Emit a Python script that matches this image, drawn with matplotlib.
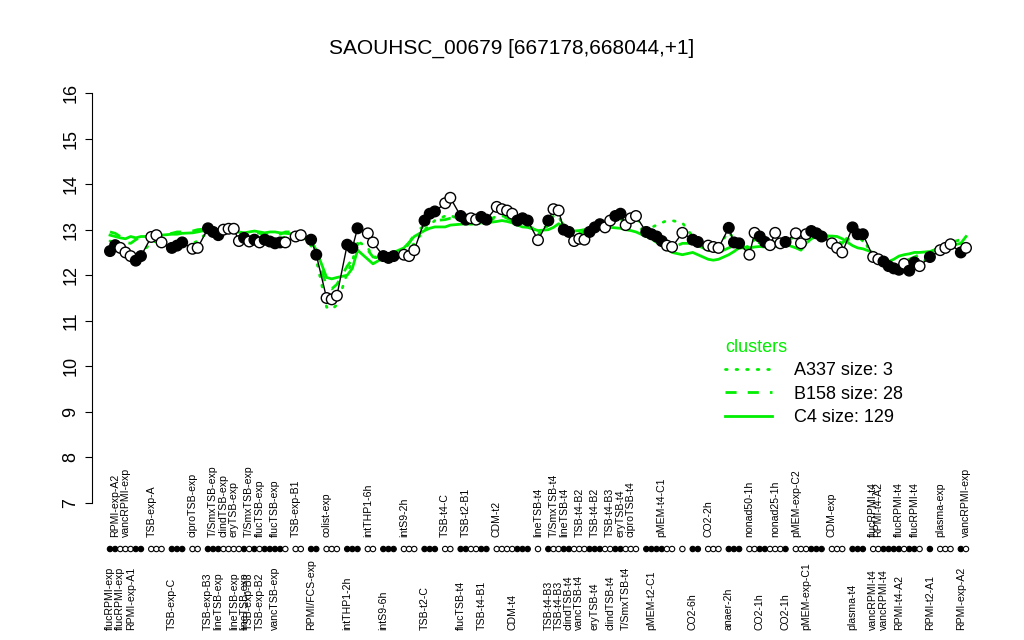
import matplotlib
matplotlib.use("Agg")
import matplotlib.pyplot as plt
from matplotlib.lines import Line2D
import numpy as np

plt.rcParams['font.family'] = ['Liberation Sans', 'DejaVu Sans']

# ── Data ──────────────────────────────────────────────────────
title = "SAOUHSC_00679 [667178,668044,+1]"

# samples come in condition groups (replicates side by side)
group_sizes = [7, 3, 3, 2, 16, 2, 2, 3, 3, 2, 3, 3, 3, 2, 6, 7, 1, 18,
               6, 1, 2, 3, 3, 8, 6, 3, 3, 10, 1, 3, 2]

# expression per sample (one line per group)
expr = [12.53, 12.66, 12.60, 12.50, 12.42, 12.32, 12.42,
        12.84, 12.88, 12.72,
        12.60, 12.65, 12.72,
        12.58, 12.60,
        13.03, 12.95, 12.88, 13.00, 13.02, 13.02, 12.75, 12.82, 12.74,
        12.78, 12.72, 12.78, 12.74, 12.70, 12.72, 12.72,
        12.85, 12.88,
        12.78, 12.45,
        11.50, 11.47, 11.55,
        12.67, 12.60, 13.03,
        12.92, 12.72,
        12.42, 12.38, 12.42,
        12.45, 12.42, 12.55,
        13.20, 13.35, 13.40,
        13.58, 13.70,
        13.30, 13.22, 13.25, 13.22, 13.28, 13.22,
        13.50, 13.45, 13.42, 13.35, 13.20, 13.25, 13.20,
        12.77,
        13.20, 13.45, 13.42, 13.00, 12.95, 12.75, 12.80, 12.78, 12.95,
        13.05, 13.12, 13.05, 13.20, 13.30, 13.35, 13.10, 13.25, 13.30,
        12.95, 12.90, 12.85, 12.75, 12.65, 12.62,
        12.93,
        12.78, 12.73,
        12.65, 12.62, 12.60,
        13.04, 12.72, 12.70,
        12.45, 12.93, 12.85, 12.73, 12.66, 12.93, 12.70, 12.73,
        12.92, 12.70, 12.90, 12.97, 12.92, 12.85,
        12.70, 12.60, 12.50,
        13.05, 12.90, 12.90,
        12.40, 12.35, 12.30, 12.20, 12.15, 12.12, 12.25, 12.10, 12.28, 12.20,
        12.40,
        12.55, 12.60, 12.68,
        12.50, 12.60]

# 1 = filled, 0 = open
filled = [1, 1, 0, 0, 0, 1, 1,
          0, 0, 0,
          1, 1, 1,
          0, 0,
          1, 1, 1, 0, 0, 0, 0, 1, 0, 1, 0, 1, 1, 1, 1, 0,
          0, 0,
          1, 1,
          0, 0, 0,
          1, 1, 1,
          0, 0,
          1, 1, 1,
          0, 0, 0,
          1, 1, 1,
          0, 0,
          1, 1, 0, 0, 1, 1,
          0, 0, 0, 0, 1, 1, 1,
          0,
          1, 0, 0, 1, 1, 0, 0, 0, 1, 1, 1, 0, 0, 1, 1, 0, 0, 0,
          1, 1, 1, 1, 0, 0,
          0,
          1, 1,
          0, 0, 0,
          1, 1, 1,
          0, 0, 1, 1, 0, 0, 0, 1,
          0, 0, 0, 1, 1, 1,
          0, 0, 0,
          1, 1, 1,
          0, 0, 1, 1, 1, 1, 0, 1, 1, 0,
          1,
          0, 0, 0,
          1, 0]

# cluster profiles
c4 = [12.88, 12.85, 12.82, 12.80, 12.85, 12.82, 12.85,
      12.85, 12.87, 12.88,
      12.90, 12.90, 12.92,
      12.93, 12.95,
      13.00, 12.98, 12.95, 12.95, 12.97, 12.98, 12.95, 12.93, 12.95,
      12.97, 12.95, 12.93, 12.95, 12.95, 12.93, 12.92,
      12.90, 12.90,
      12.75, 12.55,
      11.95, 11.92, 11.95,
      12.00, 12.15, 12.55,
      12.35, 12.25,
      12.38, 12.45, 12.50,
      12.60, 12.72, 12.85,
      12.98, 13.03, 13.06,
      13.06, 13.10,
      13.12, 13.13, 13.12, 13.13, 13.15, 13.15,
      13.18, 13.20, 13.18, 13.15, 13.10, 13.06, 13.05,
      12.98,
      13.00, 13.05, 13.13, 13.05, 13.00, 12.97, 12.98, 13.00, 13.02,
      13.03, 13.04, 13.05, 13.05, 13.04, 13.03, 13.00, 12.98, 12.95,
      12.85, 12.80, 12.72, 12.65, 12.58, 12.50,
      12.45,
      12.50, 12.45,
      12.35, 12.33, 12.35,
      12.45, 12.52, 12.60,
      12.60, 12.62, 12.63, 12.62, 12.60, 12.63, 12.65, 12.68,
      12.60, 12.55, 12.70, 12.80, 12.85, 12.86,
      12.86, 12.85, 12.80,
      12.65, 12.60, 12.58,
      12.50, 12.42, 12.35, 12.30, 12.35, 12.42, 12.45, 12.47, 12.50, 12.50,
      12.52,
      12.60, 12.62, 12.65,
      12.70, 12.85]

b158 = [12.95, 12.92, 12.85, 12.72, 12.70, 12.78, 12.85,
        12.90, 12.92, 12.90,
        12.92, 12.95, 12.95,
        12.97, 13.00,
        13.02, 13.00, 12.98, 12.98, 13.00, 13.00, 12.95, 12.90, 12.92,
        12.95, 12.92, 12.90, 12.92, 12.93, 12.90, 12.95,
        12.95, 12.92,
        12.75, 12.50,
        11.75, 11.70, 11.80,
        12.20, 12.35, 12.70,
        12.55, 12.40,
        12.40, 12.45, 12.50,
        12.55, 12.70, 12.90,
        13.10, 13.15, 13.20,
        13.22, 13.25,
        13.25, 13.20, 13.20, 13.20, 13.22, 13.20,
        13.25, 13.30, 13.25, 13.20, 13.15, 13.12, 13.10,
        12.95,
        13.10, 13.20, 13.25, 13.10, 13.00, 12.90, 12.92, 12.95, 13.05,
        13.08, 13.10, 13.12, 13.15, 13.20, 13.22, 13.18, 13.12, 13.10,
        12.95, 12.88, 12.80, 12.72, 12.65, 12.60,
        12.70,
        12.70, 12.65,
        12.55, 12.50, 12.50,
        12.60, 12.65, 12.70,
        12.55, 12.70, 12.72, 12.70, 12.68, 12.75, 12.72, 12.75,
        12.75, 12.72, 12.80, 12.90, 12.95, 12.95,
        12.80, 12.75, 12.70,
        12.95, 12.85, 12.75,
        12.45, 12.38, 12.30, 12.25, 12.20, 12.22, 12.30, 12.35, 12.40, 12.45,
        12.50,
        12.62, 12.68, 12.72,
        12.78, 12.90]

a337 = [12.75, 12.70, 12.65, 12.55, 12.50, 12.45, 12.50,
        12.70, 12.75, 12.70,
        12.65, 12.70, 12.75,
        12.70, 12.75,
        12.95, 12.95, 12.90, 12.95, 12.98, 12.95, 12.85, 12.85, 12.85,
        12.82, 12.80, 12.82, 12.80, 12.80, 12.80, 12.85,
        12.88, 12.85,
        12.65, 12.35,
        11.30, 11.25, 11.35,
        12.05, 12.30, 12.75,
        12.60, 12.40,
        12.35, 12.40, 12.45,
        12.50, 12.55, 12.70,
        13.00, 13.10, 13.20,
        13.30, 13.32,
        13.20, 13.18, 13.18, 13.20, 13.20, 13.18,
        13.30, 13.30, 13.28, 13.25, 13.15, 13.15, 13.12,
        12.90,
        13.10, 13.30, 13.30, 13.05, 12.95, 12.85, 12.85, 12.90, 13.00,
        13.05, 13.10, 13.12, 13.20, 13.28, 13.30, 13.20, 13.20, 13.25,
        13.00, 13.05, 13.10, 13.15, 13.20, 13.20,
        13.15,
        12.85, 12.80,
        12.70, 12.65, 12.65,
        12.95, 12.80, 12.75,
        12.60, 12.80, 12.80, 12.75, 12.70, 12.80, 12.75, 12.75,
        12.85, 12.75, 12.85, 12.90, 12.95, 12.90,
        12.70, 12.65, 12.55,
        12.95, 12.85, 12.85,
        12.35, 12.30, 12.25, 12.20, 12.15, 12.10, 12.20, 12.15, 12.25, 12.25,
        12.40,
        12.55, 12.60, 12.65,
        12.55, 12.60]

# sample labels: sample number, text, row (t = above dot row, b = below)
lab_pos = [0, 1, 2, 3, 4, 7, 10, 13,
           15, 16, 17, 18, 20, 20, 22, 23, 23, 25, 25, 28, 28, 31,
           33, 35, 38, 41, 43, 46, 49, 52, 54, 55, 58, 60, 63, 67,
           68, 69, 70, 71, 72, 74, 74, 77, 77, 80, 80, 82, 83, 84,
           87, 89, 93, 95, 98, 101, 103, 106, 108, 109, 111, 115, 118,
           121, 121, 123, 122, 126, 126, 129, 131, 132, 135, 136]
lab_txt = ["flucRPMI-exp", "RPMI-exp-A2", "flucRPMI-exp", "vancRPMI-exp",
           "RPMI-exp-A1", "TSB-exp-A", "TSB-exp-C", "ciproTSB-exp",
           "TSB-exp-B3", "T/SmxTSB-exp", "lineTSB-exp", "clindTSB-exp",
           "lineTSB-exp", "eryTSB-exp", "lineTSB-exp", "TSB-exp-B3",
           "T/SmxTSB-exp", "flucTSB-exp", "TSB-exp-B2", "flucTSB-exp",
           "vancTSB-exp", "TSB-exp-B1",
           "RPMI/FCS-exp", "colist-exp", "intTHP1-2h", "intTHP1-6h",
           "intS9-6h", "intS9-2h", "TSB-t2-C", "TSB-t4-C", "flucTSB-t4",
           "TSB-t2-B1", "TSB-t4-B1", "CDM-t2", "CDM-t4", "lineTSB-t4",
           "TSB-t4-B3", "T/SmxTSB-t4", "TSB-t4-B3", "lineTSB-t4",
           "clindTSB-t4", "TSB-t4-B2", "vancTSB-t4", "TSB-t4-B2",
           "eryTSB-t4", "TSB-t4-B3", "clindTSB-t4", "eryTSB-t4",
           "T/SmxTSB-t4", "ciproTSB-t4",
           "pMEM-t2-C1", "pMEM-t4-C1", "CO2-6h", "CO2-2h", "anaer-2h",
           "nonad50-1h", "CO2-1h", "nonad25-1h", "CO2-1h", "pMEM-exp-C2",
           "pMEM-exp-C1", "CDM-exp", "plasma-t4",
           "vancRPMI-t4", "flucRPMI-t4", "vancRPMI-t4", "RPMI-t4-A2",
           "flucRPMI-t4", "RPMI-t4-A2", "flucRPMI-t4", "RPMI-t2-A1",
           "plasma-exp", "RPMI-exp-A2", "vancRPMI-exp"]
lab_row = ["b", "t", "b", "t", "b", "t", "b", "t",
           "b", "t", "b", "t", "b", "t", "b", "b", "t", "t", "b", "t", "b", "t",
           "b", "t", "b", "t", "b", "t", "b", "t", "b", "t", "b", "t", "b", "t",
           "b", "t", "b", "t", "b", "t", "b", "t", "b", "t", "b", "t", "b", "t",
           "b", "t", "b", "t", "b", "t", "b", "t", "b", "t", "b", "t", "b",
           "b", "t", "b", "t", "t", "b", "t", "b", "t", "b", "t"]

legend_title = "clusters"
legend_labels = ["A337 size: 3", "B158 size: 28", "C4 size: 129"]

GREEN = "#00EE00"

# ── Figure ────────────────────────────────────────────────────
W, H = 1024, 640
fig = plt.figure(figsize=(W / 100, H / 100), dpi=100)

n = len(expr)
gid = np.repeat(np.arange(len(group_sizes)), group_sizes)
xs = np.arange(n) + 1.0 * gid          # one empty slot between groups

# y: 16 -> 93px, 7 -> 503px ; x: first sample -> 110px, last -> 966px
Y_TOP, Y_BOT = 17.0, 4.2
ppu = (503 - 93) / 9.0
top_px = 93 - (Y_TOP - 16) * ppu
bot_px = 503 + (7 - Y_BOT) * ppu
left_px, right_px = 92, 990
ppx = (966 - 110) / xs[-1]
x0 = -(110 - left_px) / ppx
x1 = xs[-1] + (right_px - 966) / ppx

ax = fig.add_axes([left_px / W, 1 - bot_px / H,
                   (right_px - left_px) / W, (bot_px - top_px) / H])
ax.set_xlim(x0, x1)
ax.set_ylim(Y_BOT, Y_TOP)

# cluster lines
DOT = (0, (0.6, 3.2))
DASH = (0, (4, 4))
ax.plot(xs, a337, color=GREEN, lw=2, ls=DOT, dash_capstyle="round", zorder=2)
ax.plot(xs, b158, color=GREEN, lw=2, ls=DASH, zorder=2)
ax.plot(xs, c4, color=GREEN, lw=2, zorder=2)

# the gene itself
ax.plot(xs, expr, color="black", lw=1, zorder=3)
fc = ["black" if f else "white" for f in filled]
ax.scatter(xs, expr, s=58, facecolors=fc, edgecolors="black",
           linewidths=1, zorder=4)

# dot row of sample status
ax.scatter(xs, np.full(n, 5.99), s=15, facecolors=fc, edgecolors="black",
           linewidths=0.8, clip_on=False, zorder=4)

# sample labels
for p, t, r in zip(lab_pos, lab_txt, lab_row):
    y = 6.26 if r == "t" else 4.21
    ax.text(xs[p], y, t, rotation=90, ha="center", va="bottom",
            fontsize=7.6, clip_on=False)

# axes look (R style: only left axis)
for s in ["top", "right", "bottom"]:
    ax.spines[s].set_visible(False)
ax.spines["left"].set_bounds(7, 16)
ax.set_yticks(range(7, 17))
ax.set_yticklabels([str(v) for v in range(7, 17)], rotation=90, va="center")
ax.tick_params(axis="y", length=5, width=0.8, labelsize=13, pad=4)
ax.set_xticks([])

fig.text(512 / W, 1 - 48 / H, title, ha="center", va="center", fontsize=15)

# legend
handles = [Line2D([], [], color=GREEN, lw=2, ls=DOT, dash_capstyle="round"),
           Line2D([], [], color=GREEN, lw=2, ls=DASH),
           Line2D([], [], color=GREEN, lw=2)]
leg = fig.legend(handles, legend_labels, title=legend_title,
                 loc="upper left", bbox_to_anchor=(716 / W, 1 - 330 / H),
                 frameon=False, fontsize=13, title_fontsize=13,
                 handlelength=2.6, handletextpad=1.2, labelspacing=0.35,
                 borderpad=0, alignment="left")
leg.get_title().set_color(GREEN)

fig.savefig("out.png", dpi=100)
